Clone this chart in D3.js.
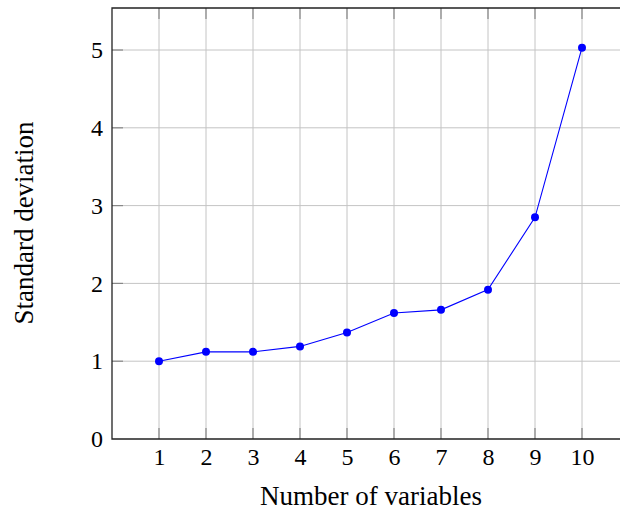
<!DOCTYPE html>
<html>
<head>
<meta charset="utf-8">
<script src="https://cdn.jsdelivr.net/npm/d3@7"></script>
<style>
  body { margin: 0; background: #fff; }
  svg text { font-family: "Liberation Serif", "DejaVu Serif", serif; fill: #000; }
</style>
</head>
<body>
<svg width="620" height="512"></svg>
<script>
var variables = [1, 2, 3, 4, 5, 6, 7, 8, 9, 10];
var stdDev = [1.0, 1.12, 1.12, 1.19, 1.37, 1.62, 1.66, 1.92, 2.85, 5.03];
var yTicks = [0, 1, 2, 3, 4, 5];

var svg = d3.select("svg"),
  margin = { top: 8, left: 112, bottom: 73 },
  width = 517,
  height = 512 - margin.top - margin.bottom;

var x = d3.scaleLinear().domain([0, 11]).range([0, width]),
  y = d3.scaleLinear().domain([0, 5.54]).range([height, 0]);

var g = svg.append("g")
  .attr("transform", "translate(" + margin.left + "," + margin.top + ")");

// grid
g.selectAll(".vgrid")
  .data(variables)
  .enter()
  .append("line")
  .attr("x1", function(d) { return x(d); })
  .attr("x2", function(d) { return x(d); })
  .attr("y1", 0)
  .attr("y2", height)
  .attr("stroke", "#c4c4c4")
  .attr("stroke-width", 1);

g.selectAll(".hgrid")
  .data(yTicks.slice(1))
  .enter()
  .append("line")
  .attr("x1", 0)
  .attr("x2", width)
  .attr("y1", function(d) { return y(d); })
  .attr("y2", function(d) { return y(d); })
  .attr("stroke", "#c4c4c4")
  .attr("stroke-width", 1);

// inner tick marks, top and bottom / left
var tickLen = 11;
g.selectAll(".xtickb")
  .data(variables)
  .enter()
  .append("line")
  .attr("x1", function(d) { return x(d); })
  .attr("x2", function(d) { return x(d); })
  .attr("y1", height)
  .attr("y2", height - tickLen)
  .attr("stroke", "#888")
  .attr("stroke-width", 1.2);
g.selectAll(".xtickt")
  .data(variables)
  .enter()
  .append("line")
  .attr("x1", function(d) { return x(d); })
  .attr("x2", function(d) { return x(d); })
  .attr("y1", 0)
  .attr("y2", tickLen)
  .attr("stroke", "#888")
  .attr("stroke-width", 1.2);
g.selectAll(".ytick")
  .data(yTicks.slice(1))
  .enter()
  .append("line")
  .attr("x1", 0)
  .attr("x2", tickLen)
  .attr("y1", function(d) { return y(d); })
  .attr("y2", function(d) { return y(d); })
  .attr("stroke", "#888")
  .attr("stroke-width", 1.2);

// frame
g.append("path")
  .attr("d", "M" + width + ",0H0V" + height + "H" + width)
  .attr("fill", "none")
  .attr("stroke", "#222")
  .attr("stroke-width", 1.3);

// tick labels
var xAxis = d3.axisBottom(x).tickValues(variables).tickSize(0).tickPadding(9);
g.append("g")
  .attr("transform", "translate(0," + height + ")")
  .call(xAxis)
  .call(function(a) { a.select(".domain").remove(); })
  .selectAll("text")
  .style("font-size", "24px")
  .style("font-family", "'Liberation Serif', serif");

var yAxis = d3.axisLeft(y).tickValues(yTicks).tickFormat(d3.format("d")).tickSize(0).tickPadding(9);
g.append("g")
  .call(yAxis)
  .call(function(a) { a.select(".domain").remove(); })
  .selectAll("text")
  .style("font-size", "24px")
  .style("font-family", "'Liberation Serif', serif");

// series
var line = d3.line()
  .x(function(d, i) { return x(variables[i]); })
  .y(function(d) { return y(d); });

g.append("path")
  .datum(stdDev)
  .attr("d", line)
  .attr("fill", "none")
  .attr("stroke", "#0000ff")
  .attr("stroke-width", 1.1);

g.selectAll(".dot")
  .data(stdDev)
  .enter()
  .append("circle")
  .attr("cx", function(d, i) { return x(variables[i]); })
  .attr("cy", function(d) { return y(d); })
  .attr("r", 4)
  .attr("fill", "#0000ff");

// axis labels
svg.append("text")
  .attr("x", 371)
  .attr("y", 505)
  .attr("text-anchor", "middle")
  .style("font-size", "27px")
  .text("Number of variables");

svg.append("text")
  .attr("transform", "translate(33,223) rotate(-90)")
  .attr("text-anchor", "middle")
  .style("font-size", "27px")
  .text("Standard deviation");
</script>
</body>
</html>
